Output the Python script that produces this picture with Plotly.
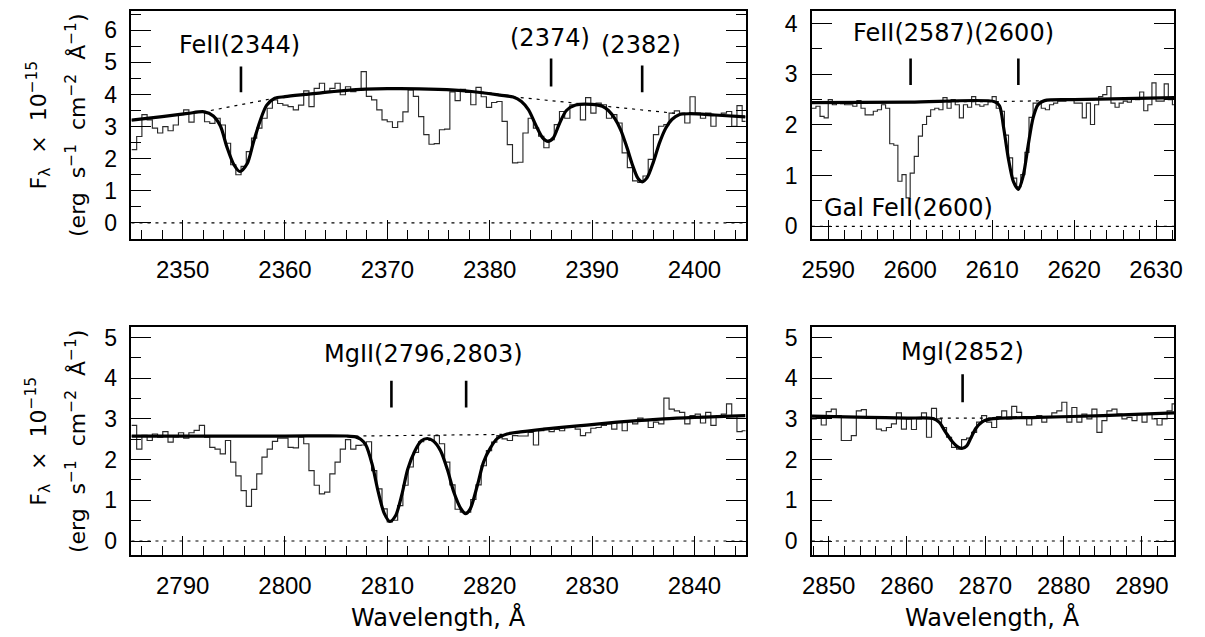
import numpy as np
import plotly.graph_objects as go

# ---------------- data ----------------
# Panel 1: FeII 2344 / 2374 / 2382
p1_start = 2345.0
p1_binw = 0.51
p1_flux = [2.28, 2.69, 3.37, 3.21, 2.95, 2.80, 3.00, 2.87, 3.05, 3.37,
           3.52, 3.14, 3.46, 3.46, 3.15, 3.10, 3.26, 3.05, 2.48, 1.81,
           1.50, 1.76, 2.22, 2.64, 2.95, 3.26, 3.57, 3.83, 3.72, 3.67,
           3.62, 3.52, 3.67, 4.11, 3.62, 4.19, 4.35, 4.09, 4.19, 4.35,
           3.99, 4.24, 4.09, 4.14, 4.71, 3.94, 3.83, 3.52, 3.21, 3.15,
           2.97, 3.15, 3.46, 4.14, 3.94, 3.31, 2.75, 2.45, 2.47, 2.90, 2.92,
           4.08, 3.81, 4.16, 4.06, 3.68, 4.22, 3.93, 3.60, 3.75, 3.78,
           3.16, 2.44, 1.87, 1.89, 2.80, 3.26, 2.95, 2.70, 2.34, 2.59,
           3.06, 3.47, 3.26, 3.68, 3.68, 3.21, 3.90, 3.42, 3.73, 3.68,
           3.26, 3.37, 3.11, 2.18, 1.72, 1.31, 1.26, 1.46, 1.98, 2.75,
           3.01, 3.06, 3.42, 3.49, 3.42, 3.11, 3.93, 3.42, 3.26, 3.42,
           3.01, 3.37, 3.42, 3.47, 3.01, 3.65, 3.16]
p1_fit_w = [2345.0, 2348.0, 2350.5, 2352.1, 2353.0, 2353.7, 2354.3, 2355.0, 2355.6, 2356.3,
            2356.9, 2357.55, 2358.2, 2359.0, 2360.0, 2362.0, 2366.0, 2370.0, 2375.0, 2378.0,
            2381.0, 2382.3, 2383.1, 2383.8, 2384.5, 2385.2, 2385.7, 2386.2, 2386.8, 2387.5,
            2388.4, 2390.0, 2391.0, 2391.6, 2392.2, 2392.8, 2393.4, 2394.0, 2394.5, 2394.9,
            2395.4, 2396.0, 2396.6, 2397.2, 2397.8, 2398.5, 2399.5, 2402.0, 2405.0]
p1_fit_f = [3.20, 3.31, 3.41, 3.46, 3.33, 3.01, 2.39, 1.82, 1.60, 1.84,
            2.49, 3.16, 3.66, 3.88, 3.93, 4.00, 4.13, 4.18, 4.16, 4.10,
            3.98, 3.92, 3.78, 3.52, 3.05, 2.64, 2.54, 2.64, 3.08, 3.50,
            3.67, 3.69, 3.63, 3.50, 3.26, 2.90, 2.36, 1.76, 1.38, 1.28,
            1.42, 1.90, 2.50, 2.95, 3.22, 3.37, 3.40, 3.36, 3.30]
p1_cont_w = [2345.0, 2350.5, 2352.1, 2358.9, 2362.0, 2366.0, 2370.0, 2375.0, 2380.0, 2382.5, 2398.5, 2402.0, 2405.0]
p1_cont_f = [3.20, 3.41, 3.46, 3.88, 4.00, 4.13, 4.18, 4.16, 4.05, 3.92, 3.40, 3.36, 3.30]
p1_marks = [2355.7, 2386.0, 2394.9]
p1_mark_lo = [4.07, 4.25, 4.07]
p1_mark_hi = [4.87, 5.12, 4.90]
p1_labels = ["FeII(2344)", "(2374)", "(2382)"]
p1_label_x = [2355.6, 2385.9, 2394.8]
p1_label_y = [5.55, 5.77, 5.53]

# Panel 2: FeII 2587 / 2600
p2_start = 2588.0
p2_binw = 0.5
p2_flux = [2.33, 2.37, 2.17, 2.14, 2.50, 2.40, 2.43, 2.42, 2.40, 2.40,
           2.37, 2.48, 2.33, 2.20, 2.20, 2.27, 2.30, 2.40, 2.33, 1.63,
           1.60, 0.89, 1.02, 0.56, 1.05, 1.38, 1.78, 2.01, 2.17, 2.30,
           2.33, 2.30, 2.54, 2.33, 2.50, 2.40, 2.14, 2.40, 2.35, 2.56,
           2.40, 2.37, 2.40, 2.47, 2.56, 2.33, 2.27, 1.80, 1.35, 0.95,
           0.78, 1.02, 1.46, 2.15, 2.43, 2.43, 2.33, 2.30, 2.40, 2.43,
           2.47, 2.47, 2.50, 2.50, 2.43, 2.43, 2.14, 2.43, 2.01, 2.40,
           2.56, 2.60, 2.76, 2.43, 2.35, 2.43, 2.47, 2.45, 2.53, 2.50,
           2.65, 2.28, 2.40, 2.83, 2.47, 2.47, 2.81, 2.50, 2.40]
p2_fit_w = [2588.0, 2600.0, 2610.3, 2610.9, 2611.4, 2612.0, 2612.6, 2613.2, 2613.8, 2614.4,
            2615.0, 2615.6, 2616.4, 2620.0, 2632.2]
p2_fit_f = [2.44, 2.45, 2.46, 2.38, 1.95, 1.32, 0.88, 0.73, 1.00, 1.60,
            2.14, 2.40, 2.48, 2.50, 2.54]
p2_cont_w = [2588.0, 2610.0, 2617.0, 2632.2]
p2_cont_f = [2.45, 2.46, 2.48, 2.54]
p2_marks = [2600.05, 2613.2]
p2_mark_lo = [2.79, 2.79]
p2_mark_hi = [3.31, 3.31]
p2_labels = ["FeII(2587)(2600)", "Gal FeII(2600)"]
p2_label_x = [2605.3, 2599.8]
p2_label_y = [3.81, 0.36]

# Panel 3: MgII 2796 / 2803
p3_start = 2785.0
p3_binw = 0.51
p3_flux = [2.84, 2.26, 2.60, 2.47, 2.63, 2.55, 2.69, 2.43, 2.56, 2.66,
           2.53, 2.66, 2.72, 2.84, 2.55, 2.30, 2.26, 2.14, 2.47, 1.94,
           1.60, 1.24, 0.85, 1.27, 1.65, 2.06, 2.26, 2.45, 2.53, 2.53,
           2.30, 2.29, 2.55, 2.39, 1.73, 1.37, 1.16, 1.20, 1.65, 1.94,
           2.26, 2.49, 2.26, 2.35, 2.36, 2.44, 1.73, 1.28, 0.79, 0.47,
           0.51, 0.87, 1.37, 1.82, 2.18, 2.44, 2.52, 2.47,
           2.59, 2.39, 1.94, 1.38, 0.78, 0.71, 0.71, 1.02, 1.38, 1.85,
           2.22, 2.43, 2.59, 2.51, 2.47, 2.59, 2.58, 2.58, 2.67, 2.36,
           2.71, 2.77, 2.69, 2.74, 2.71, 2.79, 2.82, 2.75, 2.59, 2.66,
           2.77, 2.79, 2.84, 2.88, 2.75, 2.92, 2.71, 2.96, 2.88, 3.02,
           2.96, 2.79, 2.92, 2.88, 3.51, 3.24, 3.20, 3.16, 2.88, 3.08,
           3.12, 2.90, 3.16, 2.84, 3.04, 3.12, 3.37, 3.06, 2.69, 2.71]
p3_fit_w = [2785.0, 2800.0, 2806.0, 2806.9, 2807.4, 2807.9, 2808.5, 2809.1, 2809.7, 2810.25,
            2810.8, 2811.4, 2812.0, 2812.7, 2813.3, 2813.9, 2814.5, 2815.2, 2815.9, 2816.5,
            2817.2, 2817.65, 2818.1, 2818.8, 2819.4, 2820.1, 2820.7, 2821.7, 2823.0, 2830.7,
            2837.0, 2845.0]
p3_fit_f = [2.58, 2.58, 2.58, 2.56, 2.50, 2.36, 1.90, 1.22, 0.68, 0.48,
            0.62, 1.12, 1.77, 2.22, 2.46, 2.52, 2.46, 2.22, 1.73, 1.20,
            0.79, 0.67, 0.79, 1.37, 1.94, 2.30, 2.51, 2.63, 2.68, 2.88,
            3.00, 3.08]
p3_cont_w = [2785.0, 2807.0, 2821.5, 2823.0, 2830.7, 2837.0, 2845.0]
p3_cont_f = [2.58, 2.58, 2.62, 2.68, 2.88, 3.00, 3.08]
p3_marks = [2810.4, 2817.7]
p3_mark_lo = [3.28, 3.28]
p3_mark_hi = [3.94, 3.94]
p3_labels = ["MgII(2796,2803)"]
p3_label_x = [2813.55]
p3_label_y = [4.60]

# Panel 4: MgI 2852
p4_start = 2847.77
p4_binw = 0.64
p4_flux = [3.00, 3.04, 2.85, 3.18, 3.24, 3.08, 2.47, 2.47, 2.59, 3.20,
           3.23, 3.04, 3.04, 2.75, 2.71, 2.79, 2.88, 3.15, 2.75, 3.00,
           2.74, 3.00, 3.15, 2.55, 3.26, 3.00, 2.79, 2.55, 2.30, 2.26,
           2.49, 2.53, 2.67, 2.92, 3.08, 2.92, 2.79, 3.06, 3.20, 3.00,
           3.31, 3.16, 3.04, 2.85, 3.04, 3.08, 2.92, 3.04, 3.15, 3.20,
           3.41, 2.92, 3.28, 2.92, 3.12, 3.00, 3.24, 2.67, 2.96, 3.20,
           3.24, 3.12, 3.00, 3.04, 2.96, 3.12, 2.92, 3.12, 3.00, 2.85,
           3.00, 3.20, 3.37]
p4_fit_w = [2847.85, 2855.0, 2860.0, 2863.3, 2864.1, 2864.95, 2865.8, 2866.6, 2867.1, 2867.6,
            2868.2, 2868.8, 2869.6, 2870.8, 2876.7, 2885.0, 2894.1]
p4_fit_f = [3.07, 3.04, 3.02, 3.01, 2.92, 2.67, 2.44, 2.30, 2.28, 2.33,
            2.55, 2.77, 2.93, 3.00, 3.04, 3.08, 3.15]
p4_cont_w = [2847.85, 2860.0, 2870.0, 2877.0, 2885.0, 2894.1]
p4_cont_f = [3.07, 3.02, 3.02, 3.04, 3.08, 3.15]
p4_marks = [2867.1]
p4_mark_lo = [3.41]
p4_mark_hi = [4.10]
p4_labels = ["MgI(2852)"]
p4_label_x = [2867.1]
p4_label_y = [4.65]

x_ranges = [[2345.0, 2405.0], [2588.0, 2632.2], [2785.0, 2845.0], [2847.85, 2894.1]]
y_ranges = [[-0.5, 6.6], [-0.25, 4.25], [-0.35, 5.26], [-0.35, 5.26]]

# ---------------- figure ----------------
W, H = 1205, 637
fig = go.Figure()

LABEL_FONT = dict(family="DejaVu Sans", size=24, color="black")
TITLE_FONT = dict(family="DejaVu Sans", size=22, color="black")
TICK_FONT_X = dict(family="Liberation Sans, Arial, sans-serif", size=24, color="black")
TICK_FONT_Y = dict(family="Liberation Sans, Arial, sans-serif", size=23, color="black")

panels = [
    (p1_start, p1_binw, p1_flux, p1_fit_w, p1_fit_f, p1_cont_w, p1_cont_f,
     p1_marks, p1_mark_lo, p1_mark_hi, p1_labels, p1_label_x, p1_label_y),
    (p2_start, p2_binw, p2_flux, p2_fit_w, p2_fit_f, p2_cont_w, p2_cont_f,
     p2_marks, p2_mark_lo, p2_mark_hi, p2_labels, p2_label_x, p2_label_y),
    (p3_start, p3_binw, p3_flux, p3_fit_w, p3_fit_f, p3_cont_w, p3_cont_f,
     p3_marks, p3_mark_lo, p3_mark_hi, p3_labels, p3_label_x, p3_label_y),
    (p4_start, p4_binw, p4_flux, p4_fit_w, p4_fit_f, p4_cont_w, p4_cont_f,
     p4_marks, p4_mark_lo, p4_mark_hi, p4_labels, p4_label_x, p4_label_y),
]

# pixel boxes of the four panels (left, right, top, bottom)
boxes = [(123.3, 746.7, 9.0, 237.7), (814.0, 1181.7, 9.0, 237.7),
         (123.3, 746.7, 326.0, 555.0), (814.0, 1181.7, 326.0, 555.0)]

annotations = []
shapes = []
layout_axes = {}

for i, (start, bw, flux, fw, ff, cw, cf, marks, mlo, mhi, labs, lx, ly) in enumerate(panels):
    n = i + 1
    xa = "x" if n == 1 else f"x{n}"
    ya = "y" if n == 1 else f"y{n}"
    # histogram (step) spectrum
    edges = start + bw * np.arange(len(flux) + 1)
    yy = list(flux) + [flux[-1]]
    fig.add_trace(go.Scatter(x=edges, y=yy, mode="lines", line_shape="hv",
                             line=dict(color="#2a2a2a", width=1.15), xaxis=xa, yaxis=ya,
                             showlegend=False, hoverinfo="skip"))
    # continuum (dotted)
    fig.add_trace(go.Scatter(x=cw, y=cf, mode="lines",
                             line=dict(color="black", width=1.2, dash="3px,5px"),
                             xaxis=xa, yaxis=ya, showlegend=False, hoverinfo="skip"))
    # fit (thick)
    fig.add_trace(go.Scatter(x=fw, y=ff, mode="lines", line_shape="spline",
                             line=dict(color="black", width=3.2, smoothing=0.8),
                             xaxis=xa, yaxis=ya, showlegend=False, hoverinfo="skip"))
    # line markers
    for m, lo, hi in zip(marks, mlo, mhi):
        fig.add_trace(go.Scatter(x=[m, m], y=[lo, hi], mode="lines",
                                 line=dict(color="black", width=2.6),
                                 xaxis=xa, yaxis=ya, showlegend=False, hoverinfo="skip"))
    # zero line
    shapes.append(dict(type="line", xref=f"{xa} domain", yref=ya, x0=0, x1=1, y0=0, y1=0,
                       line=dict(color="black", width=1.2, dash="3px,5px")))
    for t, tx, ty in zip(labs, lx, ly):
        annotations.append(dict(text=t, x=tx, y=ty, xref=xa, yref=ya, showarrow=False,
                                xanchor="center", yanchor="middle", font=LABEL_FONT))

    l, r, t_, b = boxes[i]
    xdom = [l / W, r / W]
    ydom = [(H - b) / H, (H - t_) / H]
    xkey = "xaxis" if n == 1 else f"xaxis{n}"
    ykey = "yaxis" if n == 1 else f"yaxis{n}"
    layout_axes[xkey] = dict(domain=xdom, range=x_ranges[i], anchor=ya,
                             showline=True, linecolor="black", linewidth=1.6, mirror=True,
                             ticks="inside", ticklen=19, tickwidth=1.4, tickcolor="black",
                             dtick=10, tick0=0, showgrid=False, zeroline=False,
                             tickfont=TICK_FONT_X, ticklabelstandoff=8,
                             minor=dict(dtick=2, ticks="inside", ticklen=9, tickwidth=1.2,
                                        tickcolor="black", showgrid=False))
    layout_axes[ykey] = dict(domain=ydom, range=y_ranges[i], anchor=xa,
                             showline=True, linecolor="black", linewidth=1.6, mirror="allticks",
                             ticks="inside", ticklen=20, tickwidth=1.4, tickcolor="black",
                             dtick=1, tick0=0, showgrid=False, zeroline=False,
                             tickfont=TICK_FONT_Y, ticklabelstandoff=8,
                             minor=dict(dtick=0.5, ticks="inside", ticklen=10, tickwidth=1.2,
                                        tickcolor="black", showgrid=False))

# axis titles
ytitle1 = "F<sub>λ</sub>&nbsp; × &nbsp;10<sup>−15</sup>"
ytitle2 = "(erg&nbsp; s<sup>−1</sup>&nbsp; cm<sup>−2</sup>&nbsp; Å<sup>−1</sup>)"
xtitle = "Wavelength, Å"
for (l, r, t_, b) in [boxes[0], boxes[2]]:
    yc = (H - (t_ + b) / 2) / H
    annotations.append(dict(text=ytitle1, x=29 / W, y=yc, xref="paper", yref="paper",
                            textangle=-90, showarrow=False, xanchor="center", yanchor="middle",
                            font=TITLE_FONT))
    annotations.append(dict(text=ytitle2, x=67 / W, y=yc, xref="paper", yref="paper",
                            textangle=-90, showarrow=False, xanchor="center", yanchor="middle",
                            font=TITLE_FONT))
for (l, r, t_, b) in [boxes[2], boxes[3]]:
    annotations.append(dict(text=xtitle, x=(l + r) / 2 / W, y=(H - 617) / H,
                            xref="paper", yref="paper", showarrow=False,
                            xanchor="center", yanchor="middle", font=LABEL_FONT))

fig.update_layout(width=W, height=H, margin=dict(l=0, r=0, t=0, b=0),
                  paper_bgcolor="white", plot_bgcolor="white",
                  annotations=annotations, shapes=shapes, showlegend=False,
                  **layout_axes)

fig.write_html("out.html")
